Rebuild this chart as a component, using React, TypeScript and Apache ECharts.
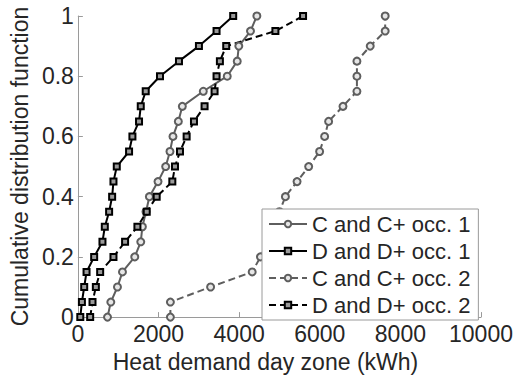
import React, { useEffect, useRef } from "react";
import * as echarts from "echarts";

const cdfLevels = [0, 0.05, 0.1, 0.15, 0.2, 0.25, 0.3, 0.35, 0.4, 0.45, 0.5, 0.55, 0.6, 0.65, 0.7, 0.75, 0.8, 0.85, 0.9, 0.95, 1];
const cOcc1 = [735, 817, 982, 1106, 1411, 1560, 1600, 1690, 1774, 1988, 2178, 2285, 2359, 2492, 2591, 3111, 3705, 3953, 3992, 4282, 4440];
const dOcc1 = [60, 100, 157, 215, 404, 610, 668, 775, 850, 883, 965, 1270, 1353, 1517, 1560, 1683, 2037, 2508, 3003, 3440, 3853];
const cOcc2 = [2295, 2295, 3292, 4324, 4530, 4700, 4850, 5000, 5148, 5437, 5725, 5997, 6121, 6220, 6576, 6922, 6922, 6922, 7252, 7623, 7623];
const dOcc2 = [305, 363, 446, 553, 883, 1171, 1477, 1708, 1955, 2343, 2409, 2533, 2698, 2880, 3143, 3391, 3440, 3523, 3680, 4900, 5586];
const seriesNames = ["C and C+ occ. 1", "D and D+ occ. 1", "C and C+ occ. 2", "D and D+ occ. 2"];
const xLabel = "Heat demand day zone (kWh)";
const yLabel = "Cumulative distribution function";

const FONT = "'Liberation Sans', Arial, sans-serif";
const GRAY = "#5e5e5e";
const BLACK = "#000000";
const AXIS = "#9a9a9a";
const TEXT = "#262626";

function pairs(xs: number[]) {
  return xs.map((x, i) => [x, cdfLevels[i]]);
}

function mk(name: string, xs: number[], color: string, dashed: boolean, symbol: string) {
  const isCircle = symbol === "circle";
  return {
    name,
    type: "line",
    data: pairs(xs),
    symbol,
    symbolSize: isCircle ? 7 : 6,
    showSymbol: true,
    lineStyle: { color, width: 2, type: dashed ? [7, 4] : "solid" },
    itemStyle: { color: isCircle ? "#e6e6e6" : "#9a9a9a", borderColor: color, borderWidth: 2 },
    emphasis: { disabled: true },
  };
}

export default function App() {
  const ref = useRef<HTMLDivElement>(null);
  useEffect(() => {
    if (!ref.current) return;
    const chart = echarts.init(ref.current, null, { renderer: "svg" });
    chart.setOption({
      animation: false,
      textStyle: { fontFamily: FONT },
      grid: { left: 77, right: 35, top: 16, bottom: 53 },
      xAxis: {
        type: "value",
        min: 0,
        max: 10000,
        interval: 2000,
        name: xLabel,
        nameLocation: "middle",
        nameGap: 19,
        nameTextStyle: { fontSize: 23, color: TEXT, fontFamily: FONT, padding: [0, 28, 0, 0] },
        axisLine: { show: true, lineStyle: { color: AXIS, width: 1 } },
        axisTick: { show: true, inside: true, length: 5, lineStyle: { color: AXIS } },
        axisLabel: { fontSize: 23, color: TEXT, fontFamily: FONT, margin: 5, formatter: (v: number) => String(v) },
        splitLine: { show: false },
      },
      yAxis: {
        type: "value",
        min: 0,
        max: 1,
        interval: 0.2,
        name: yLabel,
        nameLocation: "middle",
        nameGap: 44,
        nameTextStyle: { fontSize: 23, color: TEXT, fontFamily: FONT },
        axisLine: { show: true, lineStyle: { color: AXIS, width: 1 } },
        axisTick: { show: true, inside: true, length: 5, lineStyle: { color: AXIS } },
        axisLabel: { fontSize: 23, color: TEXT, fontFamily: FONT, margin: 4, formatter: (v: number) => String(Math.round(v * 10) / 10) },
        splitLine: { show: false },
      },
      legend: {
        orient: "vertical",
        left: 262,
        top: 209,
        data: seriesNames,
        backgroundColor: "#ffffff",
        borderColor: AXIS,
        borderWidth: 1,
        borderRadius: 0,
        padding: [4, 8, 4, 6],
        itemGap: 5,
        itemWidth: 38,
        itemHeight: 8,
        textStyle: { fontSize: 22, color: TEXT, fontFamily: FONT },
        selectedMode: false,
      },
      series: [
        mk(seriesNames[0], cOcc1, GRAY, false, "circle"),
        mk(seriesNames[1], dOcc1, BLACK, false, "rect"),
        mk(seriesNames[2], cOcc2, GRAY, true, "circle"),
        mk(seriesNames[3], dOcc2, BLACK, true, "rect"),
      ],
    });
    return () => chart.dispose();
  }, []);
  return <div ref={ref} style={{ width: 516, height: 378, position: "absolute", left: 0, top: 0 }} />;
}
